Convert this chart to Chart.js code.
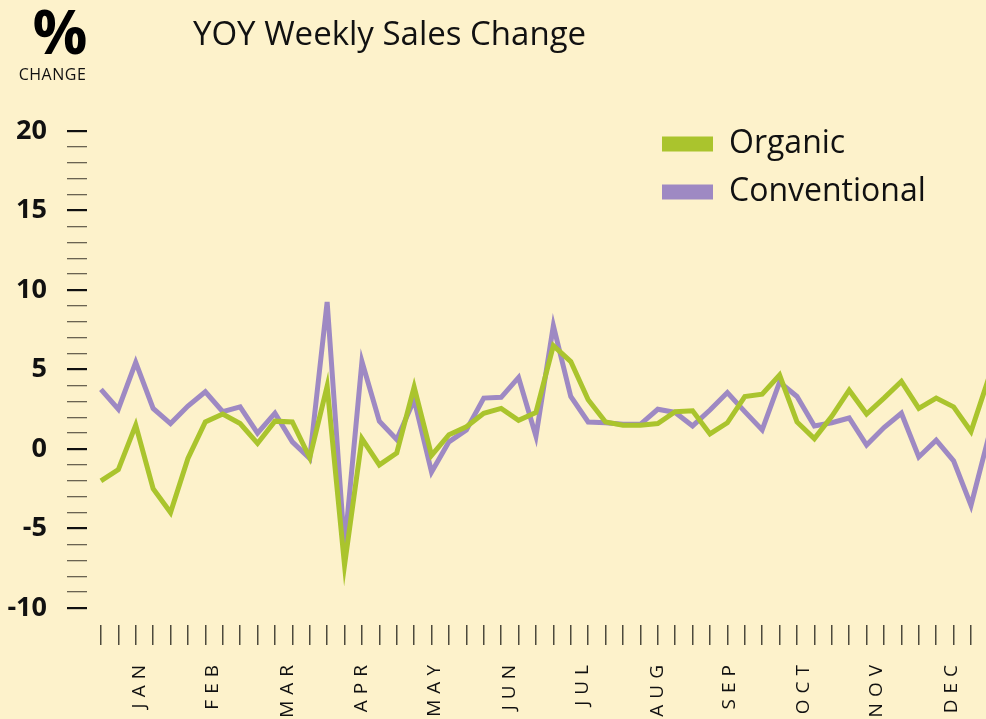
<!DOCTYPE html>
<html>
<head>
<meta charset="utf-8">
<title>YOY Weekly Sales Change</title>
<script src="https://cdn.jsdelivr.net/npm/chart.js@4.4.1/dist/chart.umd.min.js"></script>
<style>
  html, body { margin: 0; padding: 0; overflow: hidden; background: #fdf2cb; }
  #wrap { position: relative; width: 1000px; height: 725px; }
  #pct { position: absolute; left: 0; width: 120px; top: -6px; text-align: center;
         font: 700 61px "Open Sans", sans-serif; color: #000; line-height: 1.2; }
  #unit { position: absolute; left: 0; width: 105px; top: 63px; text-align: center;
          font: 400 16px "Open Sans", sans-serif; color: #111; letter-spacing: 0.5px; }
  #title { position: absolute; left: 193px; top: 10px;
           font: 400 33px "Open Sans", sans-serif; color: #111; }
</style>
</head>
<body>
<div id="wrap">
  <canvas id="chart"></canvas>
  <div id="pct">%</div>
  <div id="unit">CHANGE</div>
  <div id="title">YOY Weekly Sales Change</div>
</div>
<script>
// week numbers on the x axis
const weeks = [1, 2, 3, 4, 5, 6, 7, 8, 9, 10, 11, 12, 13, 14, 15, 16, 17, 18, 19, 20,
  21, 22, 23, 24, 25, 26, 27, 28, 29, 30, 31, 32, 33, 34, 35, 36, 37, 38, 39, 40,
  41, 42, 43, 44, 45, 46, 47, 48, 49, 50, 51, 52];

const organic = [-2.0, -1.3, 1.5, -2.5, -4.0, -0.6, 1.7, 2.2, 1.6, 0.35,
  1.75, 1.7, -0.55, 3.95, -7.3, 0.65, -1.0, -0.25, 3.9, -0.4,
  0.9, 1.4, 2.25, 2.55, 1.8, 2.3, 6.5, 5.5, 3.1, 1.7,
  1.5, 1.5, 1.6, 2.35, 2.4, 0.95, 1.65, 3.3, 3.45, 4.65,
  1.7, 0.65, 2.05, 3.7, 2.2, 3.2, 4.25, 2.55, 3.2, 2.65,
  1.1, 4.4];

const conventional = [3.75, 2.5, 5.45, 2.55, 1.6, 2.7, 3.6, 2.35, 2.65, 1.0,
  2.25, 0.45, -0.6, 9.25, -6.2, 5.5, 1.75, 0.6, 3.1, -1.45,
  0.45, 1.2, 3.2, 3.25, 4.5, 0.8, 7.75, 3.3, 1.7, 1.65,
  1.55, 1.55, 2.5, 2.3, 1.45, 2.45, 3.55, 2.35, 1.2, 4.2,
  3.3, 1.45, 1.65, 1.95, 0.25, 1.35, 2.25, -0.5, 0.55, -0.75,
  -3.55, 0.7];

// month labels and where they sit, in weeks
const months = ["JAN", "FEB", "MAR", "APR", "MAY", "JUN", "JUL", "AUG", "SEP", "OCT", "NOV", "DEC"];
const monthWeeks = [3.2, 7.4, 11.7, 16.0, 20.2, 24.5, 28.7, 33.0, 37.1, 41.4, 45.6, 49.9];

const yLabels = [-10, -5, 0, 5, 10, 15, 20];

const GREEN = "#aac42d";
const PURPLE = "#9e89c3";

// letter spacing for the month names
const spacedMonths = {
  id: "spacedMonths",
  afterUpdate(chart) {
    const s = chart.scales.m;
    if (!s || s._spaced) return;
    const orig = s.drawLabels.bind(s);
    s.drawLabels = (area) => {
      s.ctx.save();
      s.ctx.letterSpacing = "6px";
      orig(area);
      s.ctx.restore();
    };
    s._spaced = true;
  },
};

// move the legend to the upper right of the plot
const legendSpot = {
  id: "legendSpot",
  afterLayout(chart) {
    const lg = chart.legend;
    const w = lg.width, h = lg.height;
    lg.left = 646;
    lg.top = 112;
    lg.right = lg.left + w;
    lg.bottom = lg.top + h;
  },
};

const ctx = document.getElementById("chart").getContext("2d");

new Chart(ctx, {
  type: "line",
  data: {
    labels: weeks,
    datasets: [
      {
        label: "Organic",
        data: organic,
        borderColor: GREEN,
        backgroundColor: GREEN,
        borderWidth: 5,
        pointRadius: 0,
        tension: 0,
        borderJoinStyle: "miter",
      },
      {
        label: "Conventional",
        data: conventional,
        borderColor: PURPLE,
        backgroundColor: PURPLE,
        borderWidth: 5,
        pointRadius: 0,
        tension: 0,
        borderJoinStyle: "miter",
      },
    ],
  },
  options: {
    responsive: true,
    maintainAspectRatio: false,
    animation: false,
    layout: { padding: { top: 131, right: 11.6, left: 0, bottom: 0 } },
    plugins: {
      title: { display: false },
      tooltip: { enabled: false },
      legend: {
        position: "chartArea",
        align: "start",
        labels: {
          boxWidth: 51,
          boxHeight: 15,
          padding: 16,
          color: "#111",
          font: { family: "'Open Sans', sans-serif", size: 32 },
          generateLabels(chart) {
            return Chart.defaults.plugins.legend.labels.generateLabels(chart)
              .map((l) => ({ ...l, lineWidth: 0 }));
          },
        },
      },
    },
    scales: {
      x: {
        type: "linear",
        position: "bottom",
        weight: 0,
        min: 0.2,
        max: 52,
        afterBuildTicks(scale) {
          scale.ticks = weeks.map((w) => ({ value: w }));
        },
        afterFit(scale) { scale.height = 20; },
        border: { display: false },
        grid: {
          drawOnChartArea: false,
          drawTicks: true,
          tickLength: 20,
          color: "#4d4a3c",
          lineWidth: 1.5,
        },
        ticks: { display: false, autoSkip: false },
      },
      m: {
        type: "linear",
        position: "bottom",
        weight: 1,
        min: 0.2,
        max: 52,
        afterBuildTicks(scale) {
          scale.ticks = monthWeeks.map((w) => ({ value: w }));
        },
        afterFit(scale) { scale.height = 80; },
        border: { display: false },
        grid: { display: false, drawTicks: false },
        ticks: {
          autoSkip: false,
          minRotation: 90,
          maxRotation: 90,
          padding: 14,
          color: "#111",
          font: { family: "'Open Sans', sans-serif", size: 19 },
          callback: (v, i) => months[i],
        },
      },
      y: {
        min: -11.07,
        max: 20,
        afterBuildTicks(scale) {
          const t = [];
          for (let v = -10; v <= 20; v++) t.push({ value: v });
          scale.ticks = t;
        },
        afterFit(scale) { scale.width = 87; },
        border: { display: false },
        grid: {
          drawOnChartArea: false,
          drawTicks: true,
          tickLength: 20,
          color: (c) => (yLabels.includes(c.tick.value) ? "#111" : "#6a6352"),
          lineWidth: (c) => (yLabels.includes(c.tick.value) ? 2.2 : 1.3),
        },
        ticks: {
          autoSkip: false,
          padding: 20,
          color: "#111",
          font: { family: "'Open Sans', sans-serif", size: 27, weight: "bold" },
          callback: (v) => (yLabels.includes(v) ? String(v) : ""),
        },
      },
    },
  },
  plugins: [spacedMonths, legendSpot],
});
</script>
</body>
</html>
